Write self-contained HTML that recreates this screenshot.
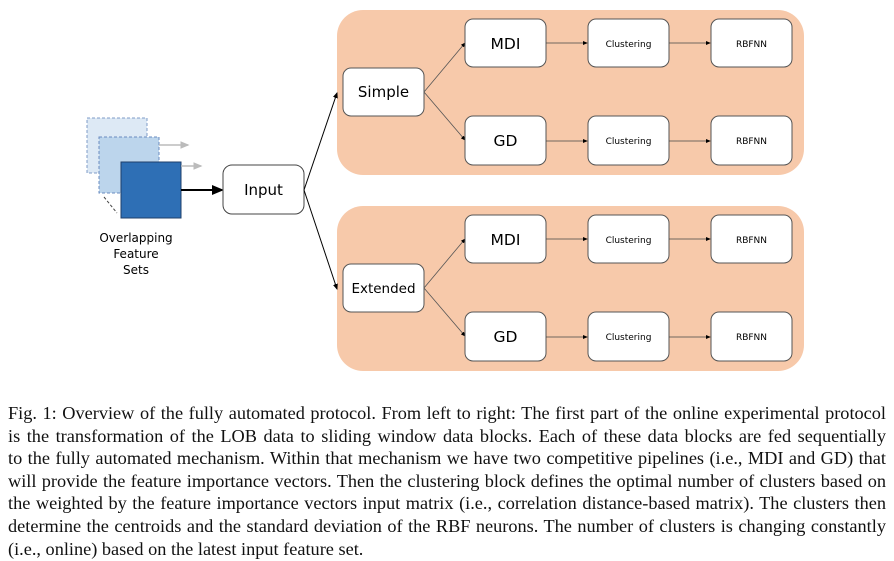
<!DOCTYPE html>
<html><head><meta charset="utf-8"><style>
body{margin:0;background:#fff;width:894px;height:561px;overflow:hidden;position:relative}
svg{position:absolute;left:0;top:0}
.cap{position:absolute;left:8px;top:402px;width:878px;font:18.3px/22.6px "Liberation Serif",serif;color:#111}
.cap div{text-align:justify;text-align-last:justify;white-space:nowrap;overflow:visible}
.cap div.last{text-align-last:left}
</style></head><body>
<svg width="894" height="400" font-family="'DejaVu Sans','Liberation Sans',sans-serif">
<defs><marker id="a" markerWidth="6" markerHeight="6" refX="5" refY="3" orient="auto"><path d="M0,0.5 L6,3 L0,5.5z" fill="#000"/></marker>
<marker id="g" markerWidth="6" markerHeight="6" refX="5" refY="3" orient="auto"><path d="M0,0.5 L6,3 L0,5.5z" fill="#bbb"/></marker></defs>
<rect x="337" y="10" width="467" height="165" rx="26" fill="#f7c9aa"/>
<rect x="337" y="206" width="467" height="165" rx="26" fill="#f7c9aa"/>
<g>
<rect x="87" y="118" width="60" height="55" fill="#dde9f5" stroke="#7f9cc8" stroke-dasharray="3,2"/>
<rect x="99" y="137" width="60" height="56" fill="#bcd5ec" stroke="#6a8cc0" stroke-dasharray="3,2"/>
<line x1="104" y1="197" x2="117" y2="213" stroke="#444" stroke-dasharray="3,2"/>
<rect x="121" y="162" width="60" height="56" fill="#2e6fb5" stroke="#1f3f6a"/>
<line x1="159" y1="145" x2="188" y2="145" stroke="#bbb" stroke-width="1.5" marker-end="url(#g)"/>
<line x1="181" y1="166" x2="201" y2="166" stroke="#bbb" stroke-width="1.5" marker-end="url(#g)"/>
<text x="136" y="242" font-size="12" text-anchor="middle">Overlapping</text>
<text x="136" y="258" font-size="12" text-anchor="middle">Feature</text>
<text x="136" y="274" font-size="12" text-anchor="middle">Sets</text>
</g>
<line x1="181" y1="190" x2="222" y2="190" stroke="#000" stroke-width="2" marker-end="url(#a)"/>
<rect x="223" y="165" width="81" height="49" rx="9" fill="#fff" stroke="#444"/>
<text x="263.5" y="195" font-size="15" text-anchor="middle">Input</text>
<line x1="304" y1="190" x2="337" y2="93" stroke="#000" marker-end="url(#a)"/>
<line x1="304" y1="190" x2="337" y2="289" stroke="#000" marker-end="url(#a)"/>
<g id="p1">
<rect x="343" y="68" width="81" height="48" rx="8" fill="#fff" stroke="#555"/>
<text x="383.5" y="97" font-size="15" text-anchor="middle">Simple</text>
<line x1="424" y1="92" x2="465" y2="43" stroke="#555" stroke-width="0.8" marker-end="url(#a)"/>
<line x1="424" y1="92" x2="465" y2="140" stroke="#555" stroke-width="0.8" marker-end="url(#a)"/>
<rect x="465" y="19" width="81" height="48" rx="8" fill="#fff" stroke="#555"/>
<text x="505.5" y="49" font-size="15.5" text-anchor="middle">MDI</text>
<rect x="465" y="116" width="81" height="49" rx="8" fill="#fff" stroke="#555"/>
<text x="505.5" y="146" font-size="15.5" text-anchor="middle">GD</text>
<rect x="588" y="19" width="81" height="48" rx="8" fill="#fff" stroke="#555"/>
<text x="628.5" y="47" font-size="9" text-anchor="middle">Clustering</text>
<rect x="588" y="116" width="81" height="49" rx="8" fill="#fff" stroke="#555"/>
<text x="628.5" y="144" font-size="9" text-anchor="middle">Clustering</text>
<rect x="711" y="19" width="81" height="48" rx="8" fill="#fff" stroke="#555"/>
<text x="751.5" y="47" font-size="9" text-anchor="middle">RBFNN</text>
<rect x="711" y="116" width="81" height="49" rx="8" fill="#fff" stroke="#555"/>
<text x="751.5" y="144" font-size="9" text-anchor="middle">RBFNN</text>
<line x1="546" y1="43" x2="587" y2="43" stroke="#444" stroke-width="0.8" marker-end="url(#a)"/>
<line x1="669" y1="43" x2="710" y2="43" stroke="#444" stroke-width="0.8" marker-end="url(#a)"/>
<line x1="546" y1="141" x2="587" y2="141" stroke="#444" stroke-width="0.8" marker-end="url(#a)"/>
<line x1="669" y1="141" x2="710" y2="141" stroke="#444" stroke-width="0.8" marker-end="url(#a)"/>
</g>
<g transform="translate(0,196)">
<rect x="343" y="68" width="81" height="48" rx="8" fill="#fff" stroke="#555"/>
<text x="383.5" y="97" font-size="13.5" text-anchor="middle">Extended</text>
<line x1="424" y1="92" x2="465" y2="43" stroke="#555" stroke-width="0.8" marker-end="url(#a)"/>
<line x1="424" y1="92" x2="465" y2="140" stroke="#555" stroke-width="0.8" marker-end="url(#a)"/>
<rect x="465" y="19" width="81" height="48" rx="8" fill="#fff" stroke="#555"/>
<text x="505.5" y="49" font-size="15.5" text-anchor="middle">MDI</text>
<rect x="465" y="116" width="81" height="49" rx="8" fill="#fff" stroke="#555"/>
<text x="505.5" y="146" font-size="15.5" text-anchor="middle">GD</text>
<rect x="588" y="19" width="81" height="48" rx="8" fill="#fff" stroke="#555"/>
<text x="628.5" y="47" font-size="9" text-anchor="middle">Clustering</text>
<rect x="588" y="116" width="81" height="49" rx="8" fill="#fff" stroke="#555"/>
<text x="628.5" y="144" font-size="9" text-anchor="middle">Clustering</text>
<rect x="711" y="19" width="81" height="48" rx="8" fill="#fff" stroke="#555"/>
<text x="751.5" y="47" font-size="9" text-anchor="middle">RBFNN</text>
<rect x="711" y="116" width="81" height="49" rx="8" fill="#fff" stroke="#555"/>
<text x="751.5" y="144" font-size="9" text-anchor="middle">RBFNN</text>
<line x1="546" y1="43" x2="587" y2="43" stroke="#444" stroke-width="0.8" marker-end="url(#a)"/>
<line x1="669" y1="43" x2="710" y2="43" stroke="#444" stroke-width="0.8" marker-end="url(#a)"/>
<line x1="546" y1="141" x2="587" y2="141" stroke="#444" stroke-width="0.8" marker-end="url(#a)"/>
<line x1="669" y1="141" x2="710" y2="141" stroke="#444" stroke-width="0.8" marker-end="url(#a)"/>
</g>
</svg>
<div class="cap">
<div>Fig. 1: Overview of the fully automated protocol. From left to right: The first part of the online experimental protocol</div>
<div>is the transformation of the LOB data to sliding window data blocks. Each of these data blocks are fed sequentially</div>
<div>to the fully automated mechanism. Within that mechanism we have two competitive pipelines (i.e., MDI and GD) that</div>
<div>will provide the feature importance vectors. Then the clustering block defines the optimal number of clusters based on</div>
<div>the weighted by the feature importance vectors input matrix (i.e., correlation distance-based matrix). The clusters then</div>
<div>determine the centroids and the standard deviation of the RBF neurons. The number of clusters is changing constantly</div>
<div class="last">(i.e., online) based on the latest input feature set.</div>
</div>
</body></html>
